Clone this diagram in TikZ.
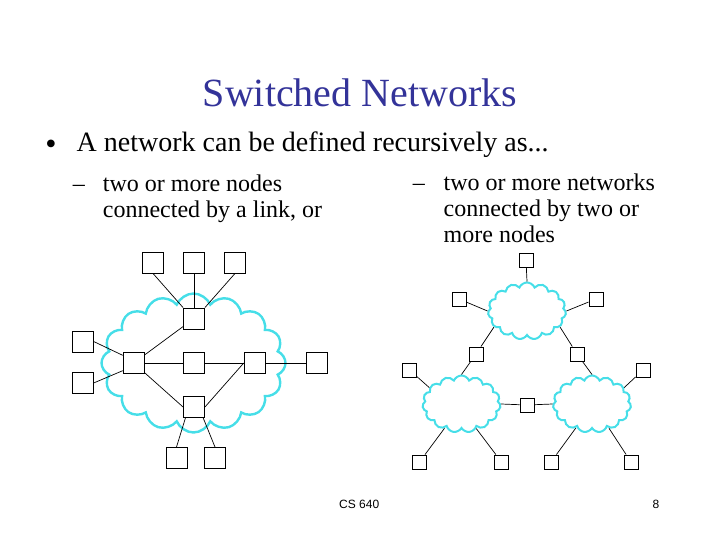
\documentclass[tikz,border=0pt]{standalone}
\usepackage{fontspec}
\setmainfont{Liberation Serif}
\newfontfamily\footfont{Liberation Sans}
\usetikzlibrary{shapes.symbols}
\definecolor{titleblue}{RGB}{51,51,153}
\definecolor{cloudcyan}{RGB}{70,222,232}
\tikzset{
  bigbox/.style={draw,fill=white,line width=0.9pt,minimum width=21pt,minimum height=21pt,inner sep=0pt},
  smallbox/.style={draw,fill=white,line width=0.9pt,minimum width=14pt,minimum height=14pt,inner sep=0pt},
  bigcloud/.style={cloud,draw=cloudcyan,line width=2.4pt,cloud puffs=16,cloud puff arc=135,cloud ignores aspect,minimum width=184pt,minimum height=139pt,inner sep=0pt},
  smallcloud/.style={cloud,draw=cloudcyan,line width=2pt,cloud puffs=15,cloud puff arc=135,cloud ignores aspect,minimum width=78pt,minimum height=57pt,inner sep=0pt},
  link/.style={line width=0.7pt},
  txt/.style={anchor=base west,inner sep=0pt,font=\fontsize{24}{26}\selectfont},
}
\begin{document}
\begin{tikzpicture}[x=1pt,y=-1pt]
\path[use as bounding box] (0,0) rectangle (720,540);
% texts
\node[anchor=base,inner sep=0pt,text=titleblue,font=\fontsize{40}{48}\selectfont] (title) at (360,107) {Switched Networks};
\node[anchor=center,inner sep=0pt,font=\fontsize{32}{36}\selectfont] (bul) at (51,147) {•};
\node[anchor=base west,inner sep=0pt,font=\fontsize{28}{32}\selectfont] (b1t) at (76.5,152) {A network can be defined recursively as...};
\node[txt] (d1) at (72.7,191.7) {–};
\node[txt] (l1a) at (102.7,191.7) {two or more nodes};
\node[txt] (l1b) at (102.7,217.5) {connected by a link, or};
\node[txt] (d2) at (412.7,190.5) {–};
\node[txt] (r1a) at (443.5,190.5) {two or more networks};
\node[txt] (r1b) at (443.5,216.5) {connected by two or};
\node[txt] (r1c) at (443.5,242.5) {more nodes};
\node[anchor=base west,inner sep=0pt,font=\footfont\fontsize{12}{14}\selectfont] (foot) at (339,508) {CS 640};
\node[anchor=base west,inner sep=0pt,font=\footfont\fontsize{12}{14}\selectfont] (page) at (652.5,508) {8};

% left network
\node[bigcloud] (bc) at (193.5,363) {};
\node[bigbox] (t1) at (153,262.5) {};
\node[bigbox] (t2) at (194,262.5) {};
\node[bigbox] (t3) at (235,262.5) {};
\node[bigbox] (h1) at (194,318.5) {};
\node[bigbox] (s1) at (82.7,341.5) {};
\node[bigbox] (s2) at (82.7,383) {};
\node[bigbox] (hm) at (133.7,363) {};
\node[bigbox] (hc) at (194,363) {};
\node[bigbox] (hr) at (254.7,363) {};
\node[bigbox] (fr) at (317,363) {};
\node[bigbox] (h3) at (194,407) {};
\node[bigbox] (u1) at (176.5,458) {};
\node[bigbox] (u2) at (215,458) {};
\draw[link] (t1.south) -- (h1.north west);
\draw[link] (t2.south) -- (h1.north);
\draw[link] (t3.south) -- (h1.north east);
\draw[link] (s1.east) -- (hm.145);
\draw[link] (s2.east) -- (hm.215);
\draw[link] (hm) -- (h1);
\draw[link] (hm) -- (hc);
\draw[link] (hc) -- (hr);
\draw[link] (hr) -- (fr);
\draw[link] (hm) -- (h3.west);
\draw[link] (hr.west) -- (h3.east);
\draw[link] (h3.232) -- (u1.north);
\draw[link] (h3.310) -- (u2.north);

% right network
\node[smallcloud] (tc) at (527,311) {};
\node[smallcloud] (cl) at (461.5,404) {};
\node[smallcloud] (cr) at (592,404) {};
\node[smallbox] (n0) at (526,260) {};
\node[smallbox] (ntl) at (459,299) {};
\node[smallbox] (ntr) at (596,299) {};
\node[smallbox] (nml) at (476,354) {};
\node[smallbox] (nmr) at (577,354) {};
\node[smallbox] (nul) at (409.5,370) {};
\node[smallbox] (nur) at (643,370) {};
\node[smallbox] (nmid) at (527,405) {};
\node[smallbox] (q1) at (419.5,462) {};
\node[smallbox] (q2) at (501.5,462) {};
\node[smallbox] (q3) at (551,462) {};
\node[smallbox] (q4) at (631,462) {};
\draw[link] (n0) -- (tc.north);
\draw[link] (ntl) -- (tc.west);
\draw[link] (ntr) -- (tc.east);
\draw[link] (nml) -- (tc.206);
\draw[link] (nmr) -- (tc.334);
\draw[link] (nml) -- (cl.north);
\draw[link] (nmr) -- (cr.north);
\draw[link] (nul) -- (cl.153);
\draw[link] (nur) -- (cr.27);
\draw[link] (nmid) -- (cl.east);
\draw[link] (nmid) -- (cr.west);
\draw[link] (q1) -- (cl.235);
\draw[link] (q2) -- (cl.301);
\draw[link] (q3) -- (cr.236);
\draw[link] (q4) -- (cr.305);
\end{tikzpicture}
\end{document}
